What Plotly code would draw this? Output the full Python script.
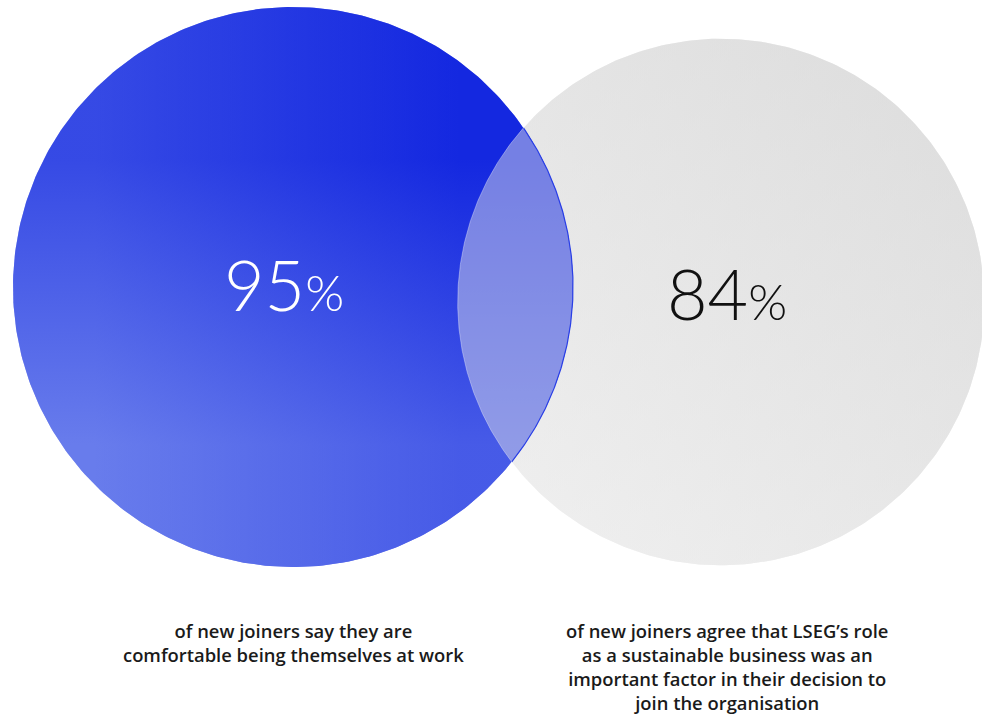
import numpy as np
import plotly.graph_objects as go

# ---- data ----
values = [95, 84]
value_labels = ["95", "84"]
captions = [
    "of new joiners say they are<br>comfortable being themselves at work",
    "of new joiners agree that LSEG\u2019s role<br>as a sustainable business was an<br>important factor in their decision to<br>join the organisation",
]

# ---- layout geometry (pixel-like coordinates, y up) ----
W, H = 982, 718
R_FULL = 287.3                      # radius for 100%
centers = [(293, H - 287), (721, H - 302)]
radii = [R_FULL * np.sqrt(v / 100) for v in values]

def circle_pts(cx, cy, r, a0=0, a1=2 * np.pi, n=400):
    t = np.linspace(a0, a1, n)
    return cx + r * np.cos(t), cy + r * np.sin(t)

fig = go.Figure()

# grey circle (84%)
(cx2, cy2), r2 = centers[1], radii[1]
gx, gy = circle_pts(cx2, cy2, r2)
fig.add_trace(go.Scatter(x=gx, y=gy, mode="lines", line=dict(width=0), fill="toself",
                         fillgradient=dict(type="horizontal", start=cx2 - r2, stop=cx2 + r2,
                                           colorscale=[[0, "#efefef"], [1, "#dcdcdc"]]),
                         hoverinfo="skip", showlegend=False))
fig.add_trace(go.Scatter(x=gx, y=gy, mode="lines", line=dict(width=0), fill="toself",
                         fillgradient=dict(type="vertical", start=cy2 - r2, stop=cy2 + r2,
                                           colorscale=[[0, "rgba(242,242,242,0.5)"], [1, "rgba(220,220,220,0.5)"]]),
                         hoverinfo="skip", showlegend=False))

# blue circle (95%) - diagonal gradient built from a horizontal and a vertical layer
(cx1, cy1), r1 = centers[0], radii[0]
bx, by = circle_pts(cx1, cy1, r1)
LIGHT, DARK = (104, 124, 236), (20, 40, 224)
fig.add_trace(go.Scatter(x=bx, y=by, mode="lines", line=dict(width=0), fill="toself",
                         fillgradient=dict(type="horizontal", start=95, stop=459,
                                           colorscale=[[0, "rgb(%d,%d,%d)" % LIGHT], [1, "rgb(%d,%d,%d)" % DARK]]),
                         hoverinfo="skip", showlegend=False))
fig.add_trace(go.Scatter(x=bx, y=by, mode="lines", line=dict(width=0), fill="toself",
                         fillgradient=dict(type="vertical", start=H - 445, stop=H - 159,
                                           colorscale=[[0, "rgba(%d,%d,%d,0.6)" % LIGHT], [1, "rgba(%d,%d,%d,0.6)" % DARK]]),
                         hoverinfo="skip", showlegend=False))

# lens (overlap)
d = np.hypot(cx2 - cx1, cy2 - cy1)
base = np.arctan2(cy2 - cy1, cx2 - cx1)
a1 = np.arccos((d**2 + r1**2 - r2**2) / (2 * d * r1))
a2 = np.arccos((d**2 + r2**2 - r1**2) / (2 * d * r2))
ax1, ay1 = circle_pts(cx1, cy1, r1, base - a1, base + a1, 200)
ax2, ay2 = circle_pts(cx2, cy2, r2, base + np.pi - a2, base + np.pi + a2, 200)
lx = np.concatenate([ax1, ax2])
ly = np.concatenate([ay1, ay2])
fig.add_trace(go.Scatter(x=lx, y=ly, mode="lines", line=dict(width=0), fill="toself",
                         fillcolor="rgba(228,228,232,0.47)", hoverinfo="skip", showlegend=False))
fig.add_trace(go.Scatter(x=ax1, y=ay1, mode="lines", line=dict(width=1.2, color="#2a3fe6"),
                         hoverinfo="skip", showlegend=False))
fig.add_trace(go.Scatter(x=ax2, y=ay2, mode="lines", line=dict(width=1, color="rgba(255,255,255,0.35)"),
                         hoverinfo="skip", showlegend=False))

# big numbers
num_pos = [(284, H - 284), (727, H - 293)]
num_colors = ["white", "#111111"]
for (x, y), lab, col in zip(num_pos, value_labels, num_colors):
    fig.add_annotation(x=x, y=y, xref="x", yref="y", showarrow=False,
                       text=f"{lab}<span style='font-size:50px'>%</span>",
                       font=dict(family="Lato", size=70, color=col, weight=300),
                       xanchor="center", yanchor="middle")

# captions
cap_pos = [(293, H - 617), (727, H - 617)]
for (x, y), txt in zip(cap_pos, captions):
    fig.add_annotation(x=x, y=y, xref="x", yref="y", showarrow=False, text=txt,
                       font=dict(family="Open Sans", size=18.4, color="#1a1a1a", weight=600),
                       xanchor="center", yanchor="top", align="center", borderpad=0)

fig.update_layout(width=W, height=H, margin=dict(l=0, r=0, t=0, b=0),
                  paper_bgcolor="white", plot_bgcolor="white",
                  xaxis=dict(range=[0, W], visible=False, fixedrange=True),
                  yaxis=dict(range=[0, H], visible=False, fixedrange=True),
                  showlegend=False)

fig.write_html("out.html")
